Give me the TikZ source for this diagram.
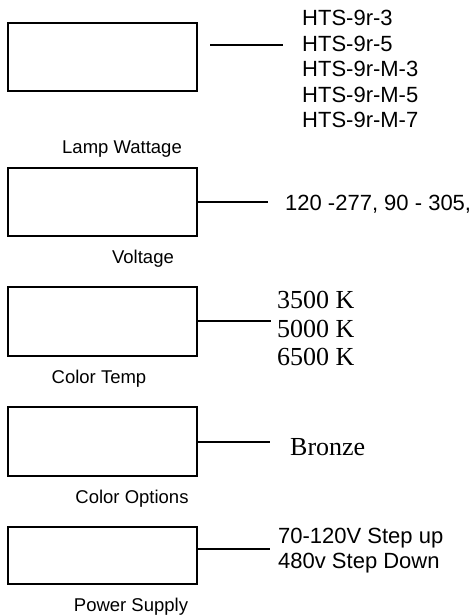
\documentclass[tikz,border=0pt]{standalone}
\usepackage{fontspec}
\setmainfont{Liberation Sans}
\newfontfamily\timesfont{Liberation Serif}
\usetikzlibrary{calc,positioning}
\tikzset{
  optfig/.style={font=\fontsize{22}{25.5}\selectfont, inner sep=0pt},
  optfigSerif/.style={font=\timesfont\fontsize{26}{28.5}\selectfont, inner sep=0pt},
  optlbl/.style={font=\fontsize{18.5}{21}\selectfont, inner sep=0pt, anchor=base},
  optbox/.style={
    draw, line width=2pt, minimum width=189pt, inner sep=0pt,
  },
  link/.style={line width=1.3pt},
}
\begin{document}
\begin{tikzpicture}[x=1pt, y=-1pt]
  \useasboundingbox (0,0) rectangle (475,616);

  % Lamp wattage
  \node[optbox, minimum height=68pt] (lamp) at (102.5,57) {};
  \node[optlbl] (lampLbl) at (122,153.6) {Lamp Wattage};
  \node[optfig, anchor=west, align=left] (lampList) at (302,69)
    {HTS-9r-3\\HTS-9r-5\\HTS-9r-M-3\\HTS-9r-M-5\\HTS-9r-M-7};
  \coordinate (lampA) at (210,45);
  \coordinate (lampB) at (283,45);
  \draw[link] (lampA) -- (lampB);

  % Voltage
  \node[optbox, minimum height=68pt] (volt) at (102.5,202) {};
  \node[optlbl] (voltLbl) at (143,263.6) {Voltage};
  \node[optfig, anchor=base west] (voltList) at (285,210) {120 -277, 90 - 305,};
  \coordinate (voltEnd) at (268,202);
  \draw[link] (volt.east |- voltEnd) -- (voltEnd);

  % Color temp
  \node[optbox, minimum height=69pt] (ctemp) at (102.5,321.5) {};
  \node[optlbl] (ctempLbl) at (99,383.6) {Color Temp};
  \node[optfigSerif, anchor=west, align=left] (ctempList) at (277,328.5)
    {3500 K\\5000 K\\6500 K};
  \coordinate (ctempEnd) at (271,321);
  \draw[link] (ctemp.east |- ctempEnd) -- (ctempEnd);

  % Color options
  \node[optbox, minimum height=69pt] (copt) at (102.5,441.5) {};
  \node[optlbl] (coptLbl) at (132,503.6) {Color Options};
  \node[optfigSerif, anchor=base west] (coptList) at (290,455.6) {Bronze};
  \coordinate (coptEnd) at (270,442);
  \draw[link] (copt.east |- coptEnd) -- (coptEnd);

  % Power supply
  \node[optbox, minimum height=57pt] (psu) at (102.5,555.5) {};
  \node[optlbl] (psuLbl) at (131,611.6) {Power Supply};
  \node[optfig, anchor=west, align=left] (psuList) at (278,550.8)
    {70-120V Step up\\480v Step Down};
  \coordinate (psuEnd) at (270,549);
  \draw[link] (psu.east |- psuEnd) -- (psuEnd);

\end{tikzpicture}
\end{document}
